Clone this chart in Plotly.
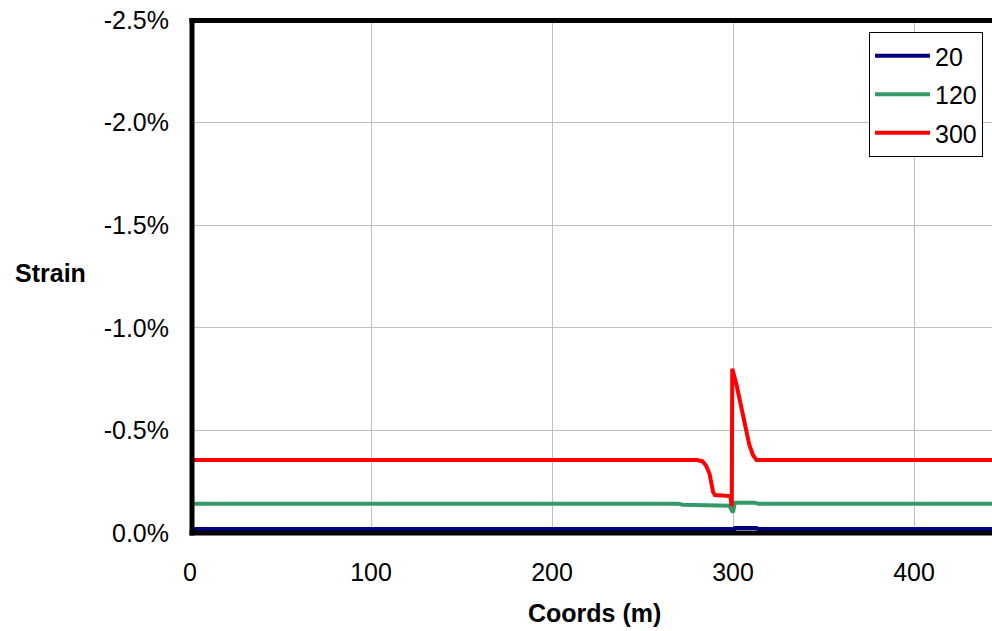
import plotly.graph_objects as go

# ---- data (strain in %) ----
x_20 = [0, 299, 300, 301, 313, 314, 450]
y_20 = [-0.02, -0.02, -0.005, -0.024, -0.024, -0.02, -0.02]

x_120 = [0, 270, 272, 298, 300, 301, 312, 314, 450]
y_120 = [-0.143, -0.143, -0.138, -0.133, -0.10, -0.148, -0.148, -0.142, -0.142]

x_300 = [0, 280, 283, 285, 287, 288, 289, 290, 297, 298.5, 299.3, 299.6,
         302, 304, 307, 309, 311, 313, 450]
y_300 = [-0.356, -0.356, -0.35, -0.33, -0.29, -0.24, -0.20, -0.185, -0.183,
         -0.18, -0.13, -0.80, -0.72, -0.64, -0.52, -0.43, -0.38, -0.356, -0.356]

series_names = ["20", "120", "300"]
series_colors = ["#000080", "#339966", "#FF0000"]

y_tickvals = [0, -0.5, -1.0, -1.5, -2.0, -2.5]
y_ticktext = ["0.0%", "-0.5%", "-1.0%", "-1.5%", "-2.0%", "-2.5%"]
x_tickvals = [0, 100, 200, 300, 400]

FONT = "Arial, 'Liberation Sans', sans-serif"

fig = go.Figure()
for xs, ys, name, col in zip([x_20, x_120, x_300], [y_20, y_120, y_300],
                             series_names, series_colors):
    fig.add_trace(go.Scatter(x=xs, y=ys, mode="lines", name=name,
                             legendgroup=name,
                             line=dict(color=col, width=4)))

W, H = 992, 631
L, T, B, R = 190, 20, 98, 0
PW, PH = W - L, H - T - B
PX = 1.81  # pixels per metre in the reference


def px(xp):
    return (xp - L) / PW


def py(yp):
    return (H - B - yp) / PH


frame = dict(color="black", width=5)

fig.update_layout(
    width=W, height=H,
    margin=dict(l=L, r=R, t=T, b=B, pad=0),
    plot_bgcolor="white", paper_bgcolor="white",
    font=dict(family=FONT, size=25, color="black"),
    showlegend=True,
    legend=dict(x=px(869), y=py(32),
                xanchor="left", yanchor="top",
                bgcolor="white", bordercolor="black", borderwidth=1,
                font=dict(family=FONT, size=25, color="black"),
                itemwidth=55, tracegroupgap=3),
    xaxis=dict(range=[0, PW / PX], tickvals=x_tickvals,
               showgrid=True, gridcolor="#C0C0C0", gridwidth=1,
               zeroline=False, showline=False,
               ticks="", ticklabelstandoff=22,
               tickfont=dict(family=FONT, size=25, color="black")),
    yaxis=dict(range=[0, -2.5], tickvals=y_tickvals, ticktext=y_ticktext,
               showgrid=True, gridcolor="#C0C0C0", gridwidth=1,
               zeroline=False, showline=False,
               ticks="", ticklabelstandoff=20,
               tickfont=dict(family=FONT, size=25, color="black")),
    shapes=[
        dict(type="line", xref="paper", yref="paper", x0=px(189.5), x1=1.05,
             y0=py(20.5), y1=py(20.5), line=frame),
        dict(type="line", xref="paper", yref="paper", x0=px(189.5), x1=1.05,
             y0=py(533), y1=py(533), line=frame),
        dict(type="line", xref="paper", yref="paper", x0=px(192), x1=px(192),
             y0=py(18), y1=py(535.5), line=frame),
    ],
    annotations=[
        dict(text="<b>Strain</b>", xref="paper", yref="paper",
             x=px(50), y=py(273),
             xanchor="center", yanchor="middle", showarrow=False,
             font=dict(family=FONT, size=25, color="black")),
        dict(text="<b>Coords (m)</b>", xref="paper", yref="paper",
             x=px(594), y=py(613),
             xanchor="center", yanchor="middle", showarrow=False,
             font=dict(family=FONT, size=25, color="black")),
    ],
)

fig.write_html("out.html")
